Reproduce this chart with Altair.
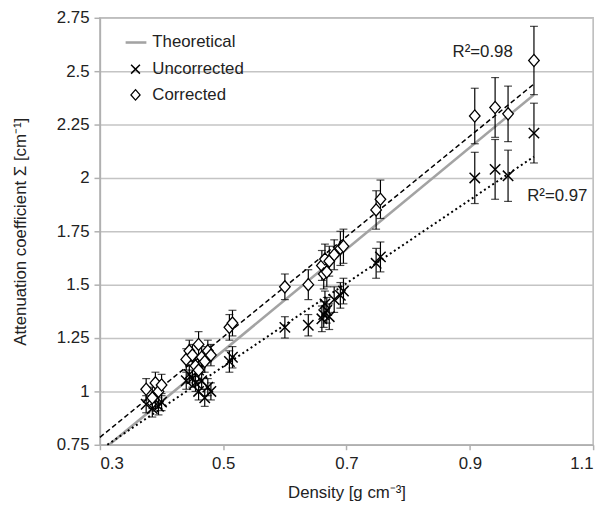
import altair as alt
import pandas as pd

# ---- data ----
density = [0.375, 0.385, 0.39, 0.395, 0.40,
           0.44, 0.445, 0.45, 0.455, 0.46, 0.46, 0.465, 0.47, 0.475, 0.48,
           0.51, 0.515, 0.60, 0.638,
           0.66, 0.663, 0.665, 0.668, 0.672, 0.68, 0.69, 0.695,
           0.748, 0.755,
           0.908, 0.941, 0.962, 1.004]
corrected = [1.01, 0.97, 1.04, 1.00, 1.03,
             1.15, 1.19, 1.17, 1.12, 1.22, 1.10, 1.16, 1.14, 1.19, 1.17,
             1.30, 1.32, 1.49, 1.50,
             1.59, 1.55, 1.62, 1.56, 1.61, 1.64, 1.67, 1.68,
             1.85, 1.90,
             2.29, 2.33, 2.30, 2.55]
corrected_err = [0.05, 0.05, 0.05, 0.05, 0.05,
                 0.05, 0.05, 0.05, 0.05, 0.06, 0.05, 0.05, 0.05, 0.05, 0.05,
                 0.06, 0.06, 0.06, 0.07,
                 0.07, 0.07, 0.07, 0.07, 0.07, 0.07, 0.08, 0.08,
                 0.09, 0.09,
                 0.13, 0.14, 0.13, 0.16]
uncorrected = [0.94, 0.92, 0.96, 0.93, 0.95,
               1.05, 1.08, 1.06, 1.04, 1.10, 1.00, 1.05, 0.97, 1.02, 1.00,
               1.14, 1.16, 1.30, 1.31,
               1.34, 1.36, 1.41, 1.38, 1.35, 1.43, 1.45, 1.47,
               1.60, 1.63,
               2.00, 2.04, 2.01, 2.21]
uncorrected_err = [0.04, 0.04, 0.04, 0.04, 0.04,
                   0.04, 0.04, 0.04, 0.04, 0.05, 0.04, 0.04, 0.04, 0.04, 0.04,
                   0.05, 0.05, 0.05, 0.05,
                   0.06, 0.06, 0.06, 0.06, 0.06, 0.06, 0.06, 0.06,
                   0.07, 0.07,
                   0.12, 0.14, 0.12, 0.14]

theo_x = [0.315, 1.004]
theo_y = [0.75, 2.39]
fitc_x = [0.30, 1.004]
fitc_y = [0.785, 2.44]
fitu_x = [0.312, 1.004]
fitu_y = [0.75, 2.10]

legend_labels = ["Theoretical", "Uncorrected", "Corrected"]
r2_labels = ["R²=0.98", "R²=0.97"]
r2_x = [0.872, 0.993]
r2_y = [2.588, 1.917]

x_ticks = [0.3, 0.5, 0.7, 0.9, 1.1]
y_ticks = [0.75, 1.0, 1.25, 1.5, 1.75, 2.0, 2.25, 2.5, 2.75]

# ---- build tables ----
corr_df = pd.DataFrame({"d": density, "v": corrected,
                        "lo": [v - e for v, e in zip(corrected, corrected_err)],
                        "hi": [v + e for v, e in zip(corrected, corrected_err)]})
unc_df = pd.DataFrame({"d": density, "v": uncorrected,
                       "lo": [v - e for v, e in zip(uncorrected, uncorrected_err)],
                       "hi": [v + e for v, e in zip(uncorrected, uncorrected_err)]})
both = pd.concat([corr_df, unc_df], ignore_index=True)
caps = pd.concat([both[["d", "lo"]].rename(columns={"lo": "c"}),
                  both[["d", "hi"]].rename(columns={"hi": "c"})], ignore_index=True)

FONT = "Liberation Sans"
xs = alt.Scale(domain=[0.3, 1.1], nice=False, zero=False)
ys = alt.Scale(domain=[0.75, 2.75], nice=False, zero=False)

X = alt.X("x:Q", scale=xs, axis=alt.Axis(values=x_ticks, labelExpr="datum.value + ''", grid=False,
                                         title="Density [g cm⁻³]", tickSize=5,
                                         labelPadding=6, titlePadding=13))
Y = alt.Y("y:Q", scale=ys, axis=alt.Axis(values=y_ticks, labelExpr="datum.value + ''",
                                         title="Attenuation coefficient Σ [cm⁻¹]",
                                         tickSize=6, labelPadding=5, titlePadding=27))

def line_df(xv, yv):
    return pd.DataFrame({"x": xv, "y": yv})

theo = alt.Chart(line_df(theo_x, theo_y)).mark_line(color="#a3a3a3", strokeWidth=2.6).encode(x=X, y=Y)
fitc = alt.Chart(line_df(fitc_x, fitc_y)).mark_line(color="black", strokeWidth=1.5,
                                                     strokeDash=[5, 3]).encode(x="x:Q", y="y:Q")
fitu = alt.Chart(line_df(fitu_x, fitu_y)).mark_line(color="black", strokeWidth=2,
                                                     strokeDash=[2, 3]).encode(x="x:Q", y="y:Q")

bars = alt.Chart(both).mark_rule(color="black", strokeWidth=1.2).encode(
    x=alt.X("d:Q"), y=alt.Y("lo:Q"), y2="hi:Q")
capm = alt.Chart(caps).mark_tick(color="black", orient="horizontal", size=8, thickness=1.2).encode(
    x=alt.X("d:Q"), y=alt.Y("c:Q"))

XPATH = "M-1,-1L1,1M-1,1L1,-1"
DPATH = "M0,-1.15L1,0L0,1.15L-1,0Z"

unc_pts = alt.Chart(unc_df).mark_point(shape=XPATH, filled=False, stroke="black",
                                       strokeWidth=1.5, size=110, opacity=1).encode(
    x=alt.X("d:Q"), y=alt.Y("v:Q"))
corr_pts = alt.Chart(corr_df).mark_point(shape=DPATH, filled=True, fill="white", stroke="black",
                                         strokeWidth=1.3, size=115, opacity=1).encode(
    x=alt.X("d:Q"), y=alt.Y("v:Q"))

r2 = alt.Chart(pd.DataFrame({"x": r2_x, "y": r2_y, "t": r2_labels})).mark_text(
    align="left", baseline="middle", font=FONT, fontSize=17, color="#222").encode(
    x="x:Q", y="y:Q", text="t:N")

# legend (pixel positions inside the plot area)
leg_txt = alt.Chart(pd.DataFrame({"t": legend_labels, "py": [25, 52, 78]})).mark_text(
    align="left", baseline="middle", font=FONT, fontSize=17, color="#222").encode(
    x=alt.value(53), y=alt.Y("py:Q", scale=None), text="t:N")
leg_line = alt.Chart(pd.DataFrame({"a": [0]})).mark_rule(color="#a3a3a3", strokeWidth=2.6).encode(
    x=alt.value(26), x2=alt.value(47), y=alt.value(25))
leg_x = alt.Chart(pd.DataFrame({"a": [0]})).mark_point(shape=XPATH, filled=False, stroke="black",
                                                       strokeWidth=1.5, size=80, opacity=1).encode(
    x=alt.value(36), y=alt.value(52))
leg_d = alt.Chart(pd.DataFrame({"a": [0]})).mark_point(shape=DPATH, filled=True, fill="white",
                                                       stroke="black", strokeWidth=1.3, size=85,
                                                       opacity=1).encode(
    x=alt.value(36), y=alt.value(78))

chart = alt.layer(theo, fitc, fitu, bars, capm, unc_pts, corr_pts, r2,
                  leg_line, leg_x, leg_d, leg_txt).properties(
    width=499, height=432,
    autosize=alt.AutoSizeParams(type="none"),
    padding={"left": 93, "top": 7, "right": 12, "bottom": 58},
    background="white",
).configure_view(stroke="#b8b8b8", strokeWidth=1.5).configure_axis(
    labelFont=FONT, titleFont=FONT, labelFontSize=17, titleFontSize=17,
    labelColor="#222", titleColor="#222", titleFontWeight="normal",
    gridColor="#c4c4c4", gridWidth=1.5, domainColor="#b0b0b0", domainWidth=1.5,
    tickColor="#b0b0b0", tickWidth=1.5)

chart.save("out.html", embed_options={"renderer": "svg", "actions": False})
